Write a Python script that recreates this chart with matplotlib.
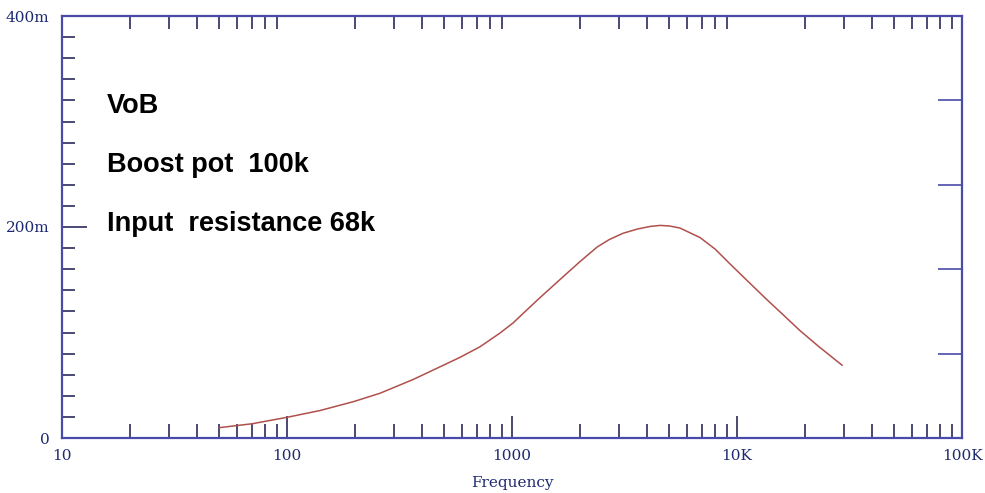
import matplotlib.pyplot as plt
from matplotlib.ticker import FixedLocator, NullFormatter

# frequency response (Hz, volts)
freq = [50, 70, 100, 140, 197, 259, 364, 513, 588, 721, 885, 1010, 1300,
        1690, 2000, 2390, 2700, 3110, 3600, 4100, 4550, 5000, 5580, 6850,
        8000, 9310, 11000, 13600, 16000, 19000, 23000, 29300]
vout = [0.0098, 0.0135, 0.0196, 0.026, 0.0344, 0.0424, 0.0555, 0.0705, 0.0765,
        0.0865, 0.0995, 0.109, 0.131, 0.153, 0.167, 0.181, 0.188, 0.194,
        0.198, 0.2005, 0.2015, 0.201, 0.199, 0.190, 0.179, 0.165, 0.150,
        0.131, 0.117, 0.102, 0.087, 0.069]

x_ticks = [10, 100, 1000, 10000, 100000]
x_labels = ["10", "100", "1000", "10K", "100K"]
y_ticks = [0, 0.2, 0.4]
y_labels = ["0", "200m", "400m"]
right_ticks = [0.08, 0.16, 0.24, 0.32]
notes = ["VoB", "Boost pot  100k", "Input  resistance 68k"]

frame = "#4a4aa8"
tick_col = "#2a2a5a"
lab_col = "#1e2a70"

fig = plt.figure(figsize=(9.85, 4.93), dpi=100)
ax = fig.add_axes([62 / 985, 55 / 493, 900 / 985, 422 / 493])

ax.plot(freq, vout, color="#b0504c", lw=1.1)
ax.set_xscale("log")
ax.set_xlim(10, 100000)
ax.set_ylim(0, 0.4)

for s in ax.spines.values():
    s.set_color(frame)
    s.set_linewidth(1.6)

minor_x = [m * 10 ** d for d in range(1, 5) for m in range(2, 10)]

ax.xaxis.set_major_locator(FixedLocator(x_ticks))
ax.set_xticklabels(x_labels)
ax.xaxis.set_minor_locator(FixedLocator(minor_x))
ax.xaxis.set_minor_formatter(NullFormatter())
ax.yaxis.set_major_locator(FixedLocator(y_ticks))
ax.set_yticklabels(y_labels)
ax.yaxis.set_minor_locator(FixedLocator([i * 0.02 for i in range(1, 20) if i % 10]))

ax.tick_params(axis="x", which="major", direction="in", length=16, width=1.2,
               color=tick_col, labelcolor=lab_col, labelsize=11, pad=8)
ax.tick_params(axis="x", which="minor", direction="in", length=10, width=1.2,
               color=tick_col)
ax.tick_params(axis="y", which="major", direction="in", length=18, width=1.2,
               color=tick_col, labelcolor=lab_col, labelsize=11, pad=9)
ax.tick_params(axis="y", which="minor", direction="in", length=9, width=1.2,
               color=tick_col)
for lab in ax.get_xticklabels() + ax.get_yticklabels():
    lab.set_family("DejaVu Serif")

top = ax.secondary_xaxis("top")
top.xaxis.set_major_locator(FixedLocator(minor_x))
top.xaxis.set_minor_locator(FixedLocator([]))
top.tick_params(direction="in", length=9, width=1.2, color=tick_col, labeltop=False)
top.spines["top"].set_visible(False)

right = ax.secondary_yaxis("right")
right.yaxis.set_major_locator(FixedLocator(right_ticks))
right.yaxis.set_minor_locator(FixedLocator([]))
right.tick_params(direction="in", length=17, width=1.2, color=frame, labelright=False)
right.spines["right"].set_visible(False)

ax.set_xlabel("Frequency", family="DejaVu Serif", fontsize=11, color=lab_col, labelpad=9)

for i, t in enumerate(notes):
    fig.text(107 / 985, 1 - (113 + 59 * i) / 493, t, fontsize=19.5, fontweight="bold",
             family="Liberation Sans", va="baseline")

fig.savefig("out.png", dpi=100)
